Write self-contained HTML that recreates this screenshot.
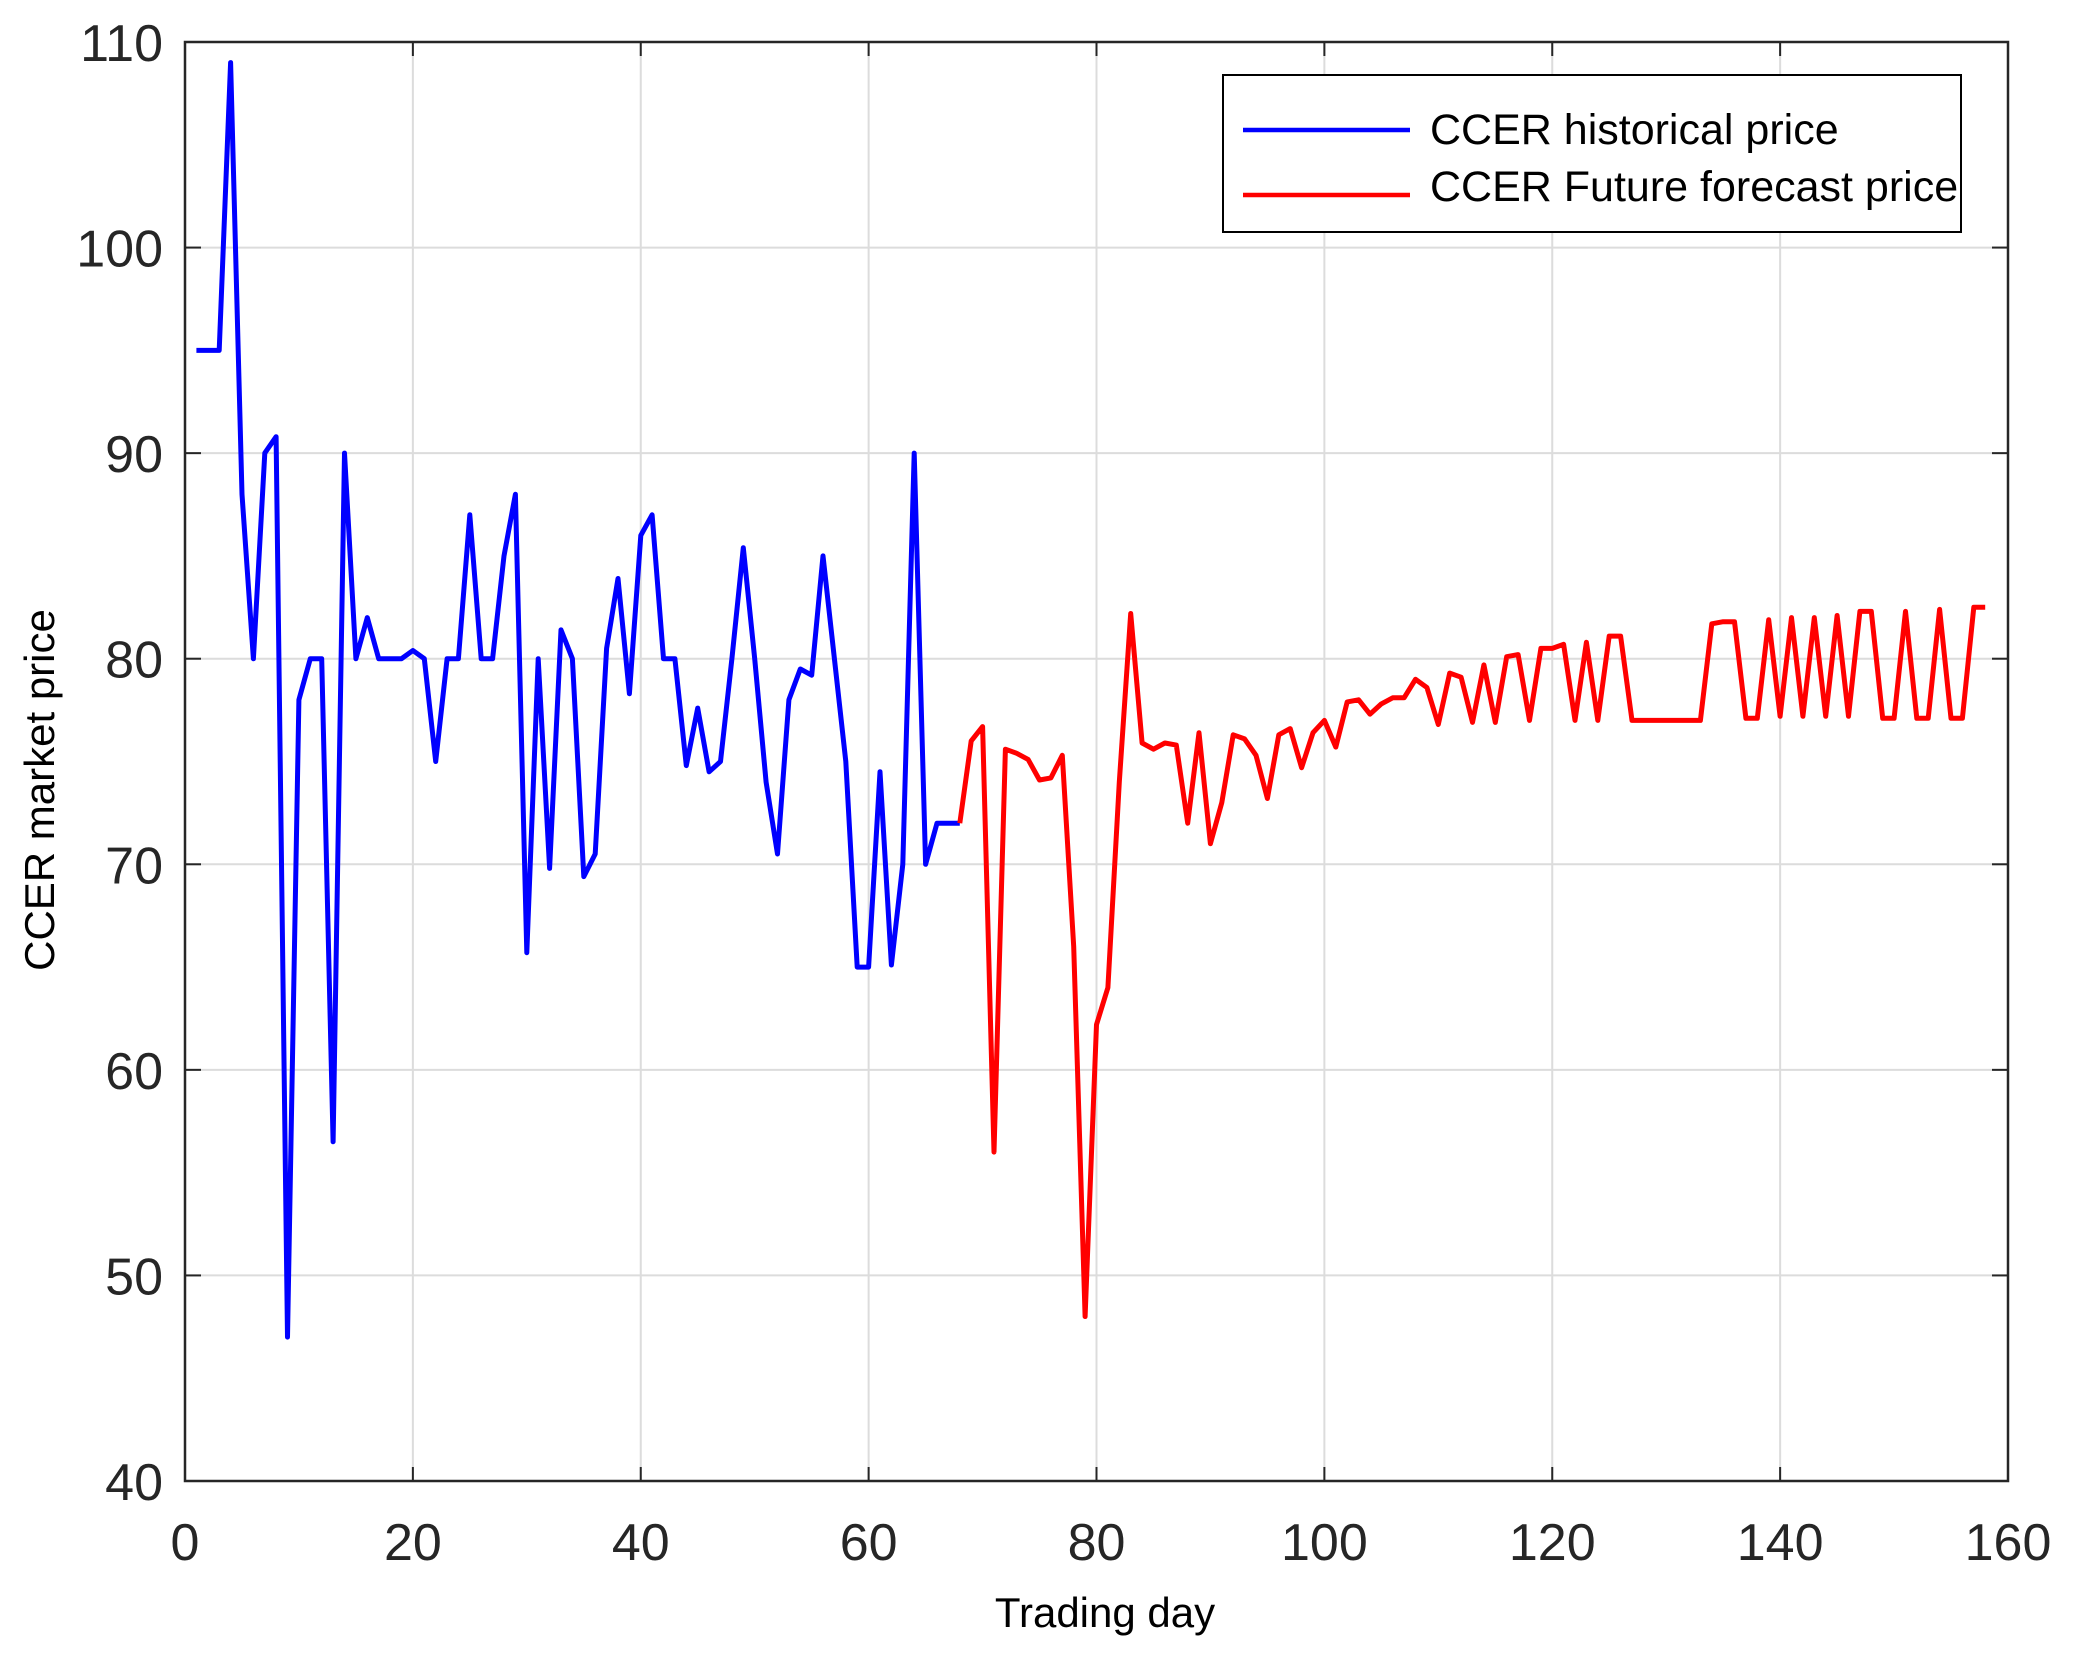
<!DOCTYPE html>
<html><head><meta charset="utf-8">
<style>
html,body{margin:0;padding:0;background:#fff;}
svg{display:block;font-family:"Liberation Sans",Arial,sans-serif;}
</style></head>
<body>
<svg id="chart" width="2073" height="1665" viewBox="0 0 2073 1665" xmlns="http://www.w3.org/2000/svg">
<rect width="2073" height="1665" fill="#fff"/>
<g id="grid"></g>
<g id="series"></g>
<rect x="185" y="42" width="1823" height="1439" fill="none" stroke="#262626" stroke-width="2.5"/>
<g id="ticks"></g>
<text x="1105" y="1627" font-size="42" text-anchor="middle" fill="#000">Trading day</text>
<text x="0" y="0" font-size="42" text-anchor="middle" fill="#000" transform="translate(54,790) rotate(-90)">CCER market price</text>
<g>
<rect x="1223" y="75" width="738" height="157" fill="#fff" stroke="#000" stroke-width="2"/>
<line x1="1243" y1="130" x2="1410" y2="130" stroke="#0000ff" stroke-width="4.5"/>
<text x="1430" y="144" font-size="43" fill="#000">CCER historical price</text>
<line x1="1243" y1="195" x2="1410" y2="195" stroke="#ff0000" stroke-width="4.5"/>
<text x="1430" y="201" font-size="43" fill="#000">CCER Future forecast price</text>
</g>
</svg>
<script>
const xTicks = [0,20,40,60,80,100,120,140,160];
const yTicks = [40,50,60,70,80,90,100,110];
const histDays = [1,2,3,4,5,6,7,8,9,10,11,12,13,14,15,16,17,18,19,20,21,22,23,24,25,26,27,28,29,30,31,32,33,34,35,36,37,38,39,40,41,42,43,44,45,46,47,48,49,50,51,52,53,54,55,56,57,58,59,60,61,62,63,64,65,66,67,68];
const histPrice = [95,95,95,109,88,80,90,90.8,47,78,80,80,56.5,90,80,82,80,80,80,80.4,80,75,80,80,87,80,80,85,88,65.7,80,69.8,81.4,80,69.4,70.5,80.5,83.9,78.3,86,87,80,80,74.8,77.6,74.5,75,80,85.4,80,74,70.5,78,79.5,79.2,85,80,75,65,65,74.5,65.1,70,90,70,72,72,72];
const foreDays = [68,69,70,71,72,73,74,75,76,77,78,79,80,81,82,83,84,85,86,87,88,89,90,91,92,93,94,95,96,97,98,99,100,101,102,103,104,105,106,107,108,109,110,111,112,113,114,115,116,117,118,119,120,121,122,123,124,125,126,127,128,129,130,131,132,133,134,135,136,137,138,139,140,141,142,143,144,145,146,147,148,149,150,151,152,153,154,155,156,157,158];
const forePrice = [72,76,76.7,56,75.6,75.4,75.1,74.1,74.2,75.3,66,48,62.2,64,74,82.2,75.9,75.6,75.9,75.8,72,76.4,71,73,76.3,76.1,75.3,73.2,76.3,76.6,74.7,76.4,77,75.7,77.9,78,77.3,77.8,78.1,78.1,79,78.6,76.8,79.3,79.1,76.9,79.7,76.9,80.1,80.2,77,80.5,80.5,80.7,77,80.8,77,81.1,81.1,77,77,77,77,77,77,77,81.7,81.8,81.8,77.1,77.1,81.9,77.2,82,77.2,82,77.2,82.1,77.2,82.3,82.3,77.1,77.1,82.3,77.1,77.1,82.4,77.1,77.1,82.5,82.5];

const L=185,R=2008,T=42,B=1481;
const xs=v=>L+(v-0)/(160-0)*(R-L);
const ys=v=>B-(v-40)/(110-40)*(B-T);
const NS='http://www.w3.org/2000/svg';
const grid=document.getElementById('grid'), ticks=document.getElementById('ticks'), series=document.getElementById('series');
function mk(tag,attrs,parent){const e=document.createElementNS(NS,tag);for(const k in attrs)e.setAttribute(k,attrs[k]);parent.appendChild(e);return e;}
xTicks.forEach(v=>{
  const x=xs(v);
  if(v>0&&v<160){const g=mk('line',{x1:x,y1:T,x2:x,y2:B,stroke:'#dcdcdc','stroke-width':2},grid);
  
  }
  const t1=mk('line',{x1:x,y1:B,x2:x,y2:B-14,stroke:'#262626','stroke-width':2},ticks);
  
  
  const t2=mk('line',{x1:x,y1:T,x2:x,y2:T+14,stroke:'#262626','stroke-width':2},ticks);
  
  
  const lb=mk('text',{x:x,y:1560,'font-size':52,'text-anchor':'middle',fill:'#262626'},ticks);
  lb.textContent=v;
  
  
});
yTicks.forEach(v=>{
  const y=ys(v);
  if(v>40&&v<110){const g=mk('line',{x1:L,y1:y,x2:R,y2:y,stroke:'#dcdcdc','stroke-width':2},grid);
  
  }
  const t1=mk('line',{x1:L,y1:y,x2:L+16,y2:y,stroke:'#262626','stroke-width':2},ticks);
  
  
  const t2=mk('line',{x1:R,y1:y,x2:R-16,y2:y,stroke:'#262626','stroke-width':2},ticks);
  
  
  const lb=mk('text',{x:163,y:y+19,'font-size':52,'text-anchor':'end',fill:'#262626'},ticks);
  lb.textContent=v;
  
  
});
function pts(d,p){return d.map((x,i)=>xs(x).toFixed(1)+','+ys(p[i]).toFixed(1)).join(' ');}
const h=mk('polyline',{points:pts(histDays,histPrice),fill:'none',stroke:'#0000ff','stroke-width':5,'stroke-linejoin':'round'},series);


const f=mk('polyline',{points:pts(foreDays,forePrice),fill:'none',stroke:'#ff0000','stroke-width':5,'stroke-linejoin':'round'},series);


</script>
</body></html>
